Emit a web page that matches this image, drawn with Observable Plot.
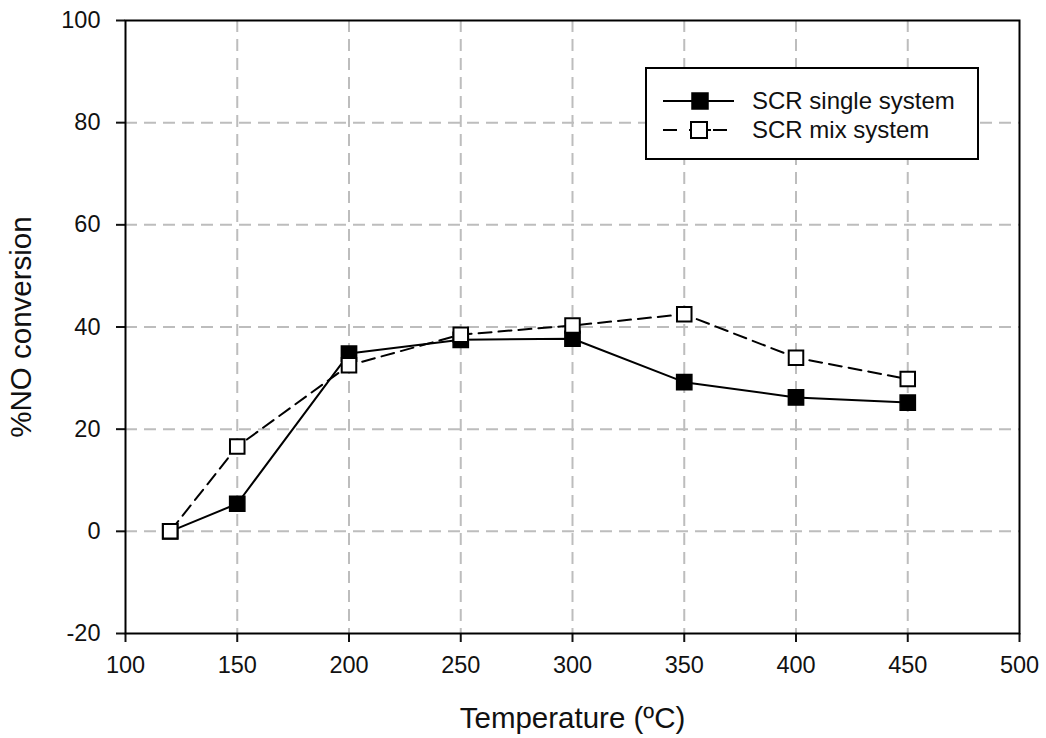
<!DOCTYPE html>
<html>
<head>
<meta charset="utf-8">
<script src="https://cdn.jsdelivr.net/npm/d3@7"></script>
<script src="https://cdn.jsdelivr.net/npm/@observablehq/plot@0.6"></script>
<style>
  html, body { margin: 0; padding: 0; background: #fff; }
  #wrap { position: relative; width: 1046px; height: 738px; font-family: "Liberation Sans", Arial, sans-serif; }
  #legend { position: absolute; left: 645px; top: 67px; width: 330px; height: 89px; border: 2px solid #000; background: #fff; }
  .row { position: absolute; left: 0; height: 26px; }
  .row svg { position: absolute; left: 16px; top: 0; }
  .row span { position: absolute; left: 105px; top: 0; line-height: 26px; font-size: 24px; white-space: nowrap; color: #111; }
</style>
</head>
<body>
<div id="wrap"></div>
<script>
const temps = [120, 150, 200, 250, 300, 350, 400, 450];
const single = [0, 5.4, 34.8, 37.5, 37.7, 29.2, 26.2, 25.2];
const mix = [0, 16.6, 32.5, 38.5, 40.3, 42.5, 34.0, 29.8];
const seriesNames = ["SCR single system", "SCR mix system"];
const xTicks = [100, 150, 200, 250, 300, 350, 400, 450, 500];
const yTicks = [-20, 0, 20, 40, 60, 80, 100];
const xGrid = [150, 200, 250, 300, 350, 400, 450];
const yGrid = [0, 20, 40, 60, 80];

const singleData = temps.map((t, i) => ({t, v: single[i]}));
const mixData = temps.map((t, i) => ({t, v: mix[i]}));

const chart = Plot.plot({
  width: 1046,
  height: 738,
  marginLeft: 125,
  marginRight: 27,
  marginTop: 20,
  marginBottom: 105,
  style: {fontFamily: "'Liberation Sans', Arial, sans-serif", background: "#fff", color: "#111"},
  x: {domain: [100, 500]},
  y: {domain: [-20, 100]},
  marks: [
    Plot.gridX(xGrid, {stroke: "#bdbdbd", strokeOpacity: 1, strokeWidth: 2, strokeDasharray: "12,7"}),
    Plot.gridY(yGrid, {stroke: "#bdbdbd", strokeOpacity: 1, strokeWidth: 2, strokeDasharray: "12,7"}),
    Plot.axisX({ticks: xTicks, tickSize: 9, tickPadding: 14, fontSize: 23.5, strokeWidth: 2, tickFormat: d => String(d),
      label: "Temperature (ºC)", labelAnchor: "center", labelArrow: "none", labelOffset: 94}),
    Plot.axisY({ticks: yTicks, tickSize: 9, tickPadding: 16, fontSize: 23.5, strokeWidth: 2, tickFormat: d => String(d),
      label: "%NO conversion", labelAnchor: "center", labelArrow: "none", labelOffset: 115}),
    Plot.frame({stroke: "#000", strokeWidth: 2}),
    Plot.line(singleData, {x: "t", y: "v", stroke: "#000", strokeWidth: 2}),
    Plot.dot(singleData, {x: "t", y: "v", symbol: "square", r: 8.6, fill: "#000", stroke: "#000", strokeWidth: 1.5}),
    Plot.line(mixData, {x: "t", y: "v", stroke: "#000", strokeWidth: 2, strokeDasharray: "13,7"}),
    Plot.dot(mixData, {x: "t", y: "v", symbol: "square", r: 8.2, fill: "#fff", stroke: "#000", strokeWidth: 2})
  ]
});

const sel = d3.select(chart);
sel.selectAll("[aria-label='x-axis tick label'], [aria-label='y-axis tick label']").attr("font-size", 23.5);
sel.selectAll("[aria-label='x-axis tick label'] text, [aria-label='y-axis tick label'] text").attr("font-size", 23.5);
sel.selectAll("[aria-label='x-axis label'], [aria-label='y-axis label']").attr("font-size", 29.5);
sel.selectAll("[aria-label='x-axis label'] text, [aria-label='y-axis label'] text").attr("font-size", 29.5);

const wrap = document.getElementById("wrap");
wrap.appendChild(chart);

const legend = document.createElement("div");
legend.id = "legend";
legend.innerHTML = `
  <div class="row" style="top:19px;">
    <svg width="74" height="26"><line x1="0" y1="13" x2="71" y2="13" stroke="#000" stroke-width="2"/><rect x="29" y="5" width="16" height="16" fill="#000" stroke="#000" stroke-width="1.5"/></svg>
    <span>${seriesNames[0]}</span>
  </div>
  <div class="row" style="top:48px;">
    <svg width="74" height="26"><line x1="0" y1="13" x2="14" y2="13" stroke="#000" stroke-width="2"/><line x1="26" y1="13" x2="48" y2="13" stroke="#000" stroke-width="2"/><line x1="50" y1="13" x2="64" y2="13" stroke="#000" stroke-width="2"/><rect x="28" y="5" width="16" height="16" fill="#fff" stroke="#000" stroke-width="2"/></svg>
    <span>${seriesNames[1]}</span>
  </div>`;
wrap.appendChild(legend);
</script>
</body>
</html>
